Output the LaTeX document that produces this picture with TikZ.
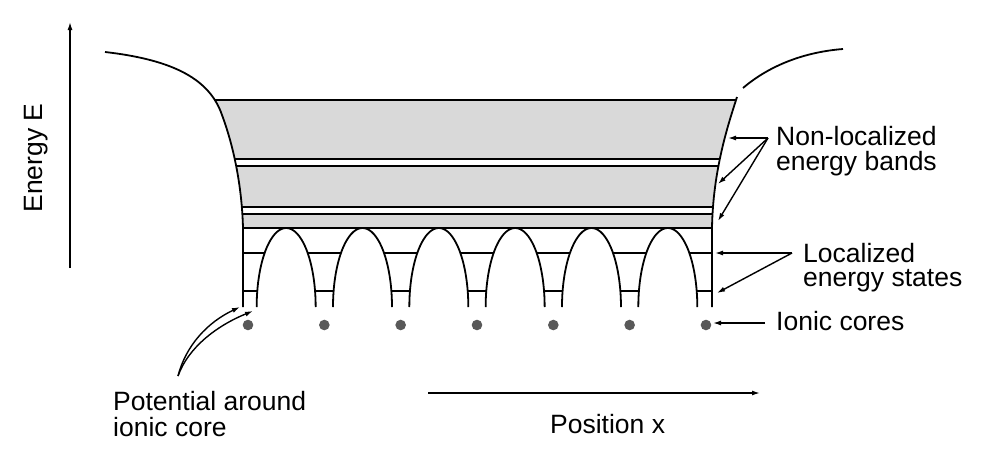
\documentclass[tikz,border=0pt]{standalone}
\usepackage{fontspec}
\setmainfont{Liberation Sans}
\usetikzlibrary{arrows.meta}
\begin{document}
\begin{tikzpicture}[x=1pt,y=-1pt,
  curve/.style={line width=1.8pt},
  bandline/.style={line width=1.6pt},
  level/.style={line width=1.5pt},
  arch/.style={line width=1.8pt,fill=white},
  band/.style={fill=black!15},
  ptr/.style={line width=1.4pt,-{Latex[length=8pt,width=5pt]}},
  lab/.style={inner sep=0pt,anchor=base west,font=\fontsize{26.5}{26.5}\selectfont},
  core/.style={fill=black!65}]
\useasboundingbox (0,0) rectangle (986,464);

% localized levels (hidden under arches)
\draw[level] (243,253) -- (712,253);
\draw[level] (243,291) -- (712,291);

% barriers between cores (half ellipses)
\foreach \i in {0,...,5} {
  \pgfmathsetmacro\xm{248+76.33*(\i+0.5)}
  \filldraw[arch] plot[smooth,domain=180:360,samples=41]
     ({\xm+29.5*cos(\x)},{307+79*sin(\x)});
}

% bands, clipped between the two walls
\begin{scope}
  \clip (105,52) .. controls (175,60) and (210,80) .. (222,115)
        .. controls (235,150) and (242,190) .. (243,228)
        -- (712,228) .. controls (713,170) and (728,125) .. (737,97)
        -- (737,40) -- (105,40) -- cycle;
  \fill[band] (150,100) rectangle (760,159);
  \fill[band] (150,166) rectangle (760,207);
  \fill[band] (150,214) rectangle (760,228);
  \foreach \y in {100,159,166,207,214,228}
    \draw[bandline] (150,\y) -- (760,\y);
\end{scope}
\draw[bandline] (243,228) -- (712,228);

% walls
\draw[curve] (105,52) .. controls (175,60) and (210,80) .. (222,115)
   .. controls (235,150) and (242,190) .. (243,228) -- (243,307);
\draw[curve] (737,97) .. controls (728,125) and (713,170) .. (712,228) -- (712,307);
\draw[curve] (743,88) .. controls (770,65) and (805,52) .. (843,49);

% ionic cores
\foreach \i in {0,...,6}
  \fill[core] ({248+76.33*\i},325) circle (5.3pt);

% axes
\coordinate (eb) at (70,268);
\coordinate (et) at (70,22);
\draw[ptr] (eb) -- (et);
\coordinate (pl) at (428,393);
\coordinate (pr) at (760,393);
\draw[ptr] (pl) -- (pr);
\node[inner sep=0pt,anchor=base,rotate=90,font=\fontsize{26.5}{26.5}\selectfont] (elab) at (42,158) {Energy E};
\node[lab] (plab) at (550,433) {Position x};

% labels
\node[lab] (nl1) at (776,145) {Non-localized};
\node[lab] (nl2) at (776,170) {energy bands};
\node[lab] (lo1) at (803,262) {Localized};
\node[lab] (lo2) at (803,286) {energy states};
\node[lab] (ic) at (776,330) {Ionic cores};
\node[lab] (po1) at (113,410) {Potential around};
\node[lab] (po2) at (113,436) {ionic core};

% pointers
\coordinate (nls) at (768,138);
\coordinate (nla) at (728,138);
\coordinate (nlb) at (718,184);
\coordinate (nlc) at (718,221);
\draw[ptr] (nls) -- (nla);
\draw[ptr] (nls) -- (nlb);
\draw[ptr] (nls) -- (nlc);
\coordinate (los) at (792,253);
\coordinate (loa) at (715,253);
\coordinate (lob) at (717,293);
\draw[ptr] (los) -- (loa);
\draw[ptr] (los) -- (lob);
\coordinate (ics) at (765,323);
\coordinate (ice) at (713,323);
\draw[ptr] (ics) -- (ice);
\coordinate (pos) at (178,376);
\coordinate (poa) at (240,307);
\coordinate (pob) at (253,311);
\draw[ptr] (pos) .. controls (186,345) and (208,322) .. (poa);
\draw[ptr] (pos) .. controls (188,348) and (216,326) .. (pob);
\end{tikzpicture}
\end{document}
